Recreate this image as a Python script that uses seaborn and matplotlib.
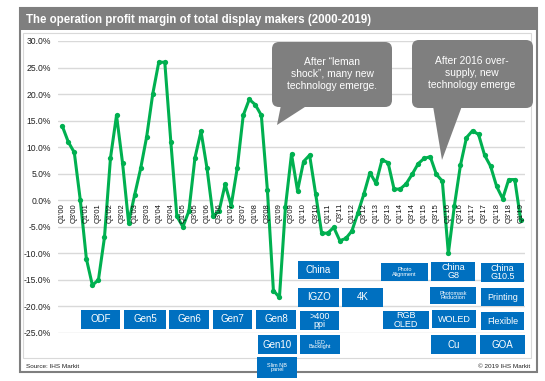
import numpy as np
import pandas as pd
import seaborn as sns
from matplotlib import pyplot as plt
from matplotlib.patches import Rectangle, FancyBboxPatch, Polygon

# quarterly operating profit margin (%), Q1'00 .. Q1'19
quarters = [f"Q{q}'{y:02d}" for y in range(0, 20) for q in range(1, 5)][:77]
margin = [14, 11, 9, 0, -11, -16, -15, -7,
          8, 16, 7, -4.2, 1, 6, 12, 20,
          26, 26, 11, -3, -5, -2, 8, 13,
          6, -3, -2, 3, -1, 6, 16, 19,
          18, 16, 2, -17, -18.3, -1.2, 8.7, 1.8,
          7.3, 8.5, 1.2, -6.2, -6.2, -5.1, -7.6, -7.2,
          -5.8, -2.4, 1.2, 5.2, 3.2, 7.6, 7.1, 2.1,
          2.1, 3.1, 4.9, 6.9, 7.9, 8.2, 4.9, 3.6,
          -10, -1, 6.6, 11.8, 13.1, 12.4, 8.5, 6.4,
          2.6, 0.3, 3.9, 3.9, -3.8]
yticks = [30, 25, 20, 15, 10, 5, 0, -5, -10, -15, -20, -25]

title = "The operation profit margin of total display makers (2000-2019)"
note1 = "After \u201cleman\nshock\u201d, many new\ntechnology emerge."
note2 = "After 2016 over-\nsupply, new\ntechnology emerge"

df = pd.DataFrame({"idx": np.arange(len(margin)), "margin": margin})

sns.set_style("white")
plt.rcParams['font.family'] = ['Liberation Sans', 'DejaVu Sans']

W, H = 545, 381
fig = plt.figure(figsize=(W / 100, H / 100), dpi=100)

# main chart axes, placed in pixel terms
x0, x1, ytop, ybot = 58, 525, 41, 333
ax = fig.add_axes([x0 / W, 1 - ybot / H, (x1 - x0) / W, (ybot - ytop) / H])
sns.lineplot(data=df, x="idx", y="margin", ax=ax, color="#00B050", lw=2.2,
             marker="o", markersize=3.8, markeredgewidth=0, zorder=3)
ax.set_xlim(-0.7, 76.7)
ax.set_ylim(-25, 30)
ax.set_yticks(yticks)
ax.set_yticklabels([f"{v:.1f}%" for v in yticks], fontsize=6.2, color="#222222")
ax.tick_params(axis="y", length=0, pad=5)
ax.set_xticks([])
ax.set_xlabel("")
ax.set_ylabel("")
ax.grid(axis="y", color="#D9D9D9", lw=1)
for s in ax.spines.values():
    s.set_visible(False)
ax.patch.set_alpha(0)

# category labels hanging under the 0% line
for i in range(0, len(quarters), 2):
    ax.annotate(quarters[i], (i, 0), xytext=(0, -2), textcoords="offset points",
                rotation=90, ha="center", va="top", fontsize=5.4, color="#111111")

# overlay in pixel coordinates for frame, boxes and callouts
ov = fig.add_axes([0, 0, 1, 1], zorder=5)
ov.set_xlim(0, W)
ov.set_ylim(H, 0)
ov.axis("off")
ov.patch.set_alpha(0)

ov.add_patch(Rectangle((23, 33), 508, 325, fill=False, ec="#D9D9D9", lw=0.8))
ov.add_patch(Rectangle((20, 8), 517, 364, fill=False, ec="#7F7F7F", lw=1.5))
ov.add_patch(Rectangle((20, 8), 517, 22, color="#7F7F7F", lw=0))
ov.text(26, 19.5, title, color="white", fontsize=8.3, fontweight="bold", va="center")
ov.text(26, 366, "Source: IHS Markit", fontsize=4.6, va="center", color="#222222")
ov.text(530, 366, "\u00a9 2019 IHS Markit", fontsize=4.6, va="center", ha="right", color="#222222")

# callouts
grey = "#7F7F7F"
ov.add_patch(FancyBboxPatch((276, 46), 112, 57, boxstyle="round,pad=4,rounding_size=7",
                            fc=grey, ec="none"))
ov.add_patch(Polygon([(281, 105), (308, 105), (277, 125)], closed=True, fc=grey, ec="none"))
ov.text(332, 74, note1, color="white", fontsize=7.4, ha="center", va="center", linespacing=1.3)

ov.add_patch(FancyBboxPatch((416, 44), 113, 60, boxstyle="round,pad=4,rounding_size=7",
                            fc=grey, ec="none"))
ov.add_patch(Polygon([(433, 106), (462, 106), (442, 160)], closed=True, fc=grey, ec="none"))
ov.text(472, 73, note2, color="white", fontsize=7.4, ha="center", va="center", linespacing=1.3)

# technology boxes: label, left, top, width, height, fontsize
boxes = [
    ("ODF", 81, 310, 39, 19, 7), ("Gen5", 124, 310, 42, 19, 7),
    ("Gen6", 169, 310, 40, 19, 7), ("Gen7", 213, 310, 39, 19, 7),
    ("Gen8", 256, 310, 40, 19, 7), ("Gen10", 258, 335, 39, 19, 7),
    ("Slim NB\npanel", 257, 357, 40, 21, 4),
    ("China", 298, 261, 41, 18, 7), ("IGZO", 298, 288, 41, 19, 7),
    (">400\nppi", 300, 311, 39, 19, 6.5), ("LED\nBacklight", 300, 335, 40, 19, 4),
    ("4K", 342, 288, 41, 19, 7),
    ("Photo\nAlignment", 381, 263, 47, 18, 4), ("RGB\nOLED", 383, 311, 46, 18, 6.5),
    ("China\nG8", 431, 262, 44, 19, 6.5), ("Photomask\nReduction", 430, 287, 46, 17, 4),
    ("WOLED", 432, 310, 44, 18, 6.5), ("Cu", 431, 335, 45, 19, 7),
    ("China\nG10.5", 481, 263, 43, 19, 6.5), ("Printing", 481, 288, 43, 18, 6.5),
    ("Flexible", 481, 312, 43, 18, 6.5), ("GOA", 480, 335, 45, 19, 7),
]
for lab, bx, by, bw, bh, fs in boxes:
    ov.add_patch(Rectangle((bx, by), bw, bh, color="#0070C0", lw=0))
    ov.text(bx + bw / 2, by + bh / 2, lab, color="white", fontsize=fs,
            ha="center", va="center", linespacing=0.95)

fig.savefig("out.png", dpi=100)
